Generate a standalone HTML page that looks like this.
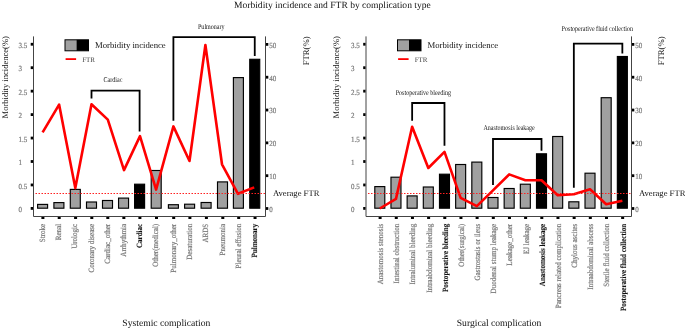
<!DOCTYPE html><html><head><meta charset="utf-8"><style>html,body{margin:0;padding:0;background:#fff;}svg{display:block;will-change:transform;} text{font-family:"Liberation Serif", serif;text-rendering:geometricPrecision;} text.xl{stroke:#7a7a7a;stroke-width:0.2px;} text.xlb{stroke:#111;stroke-width:0.1px;} text.tl{stroke:#7a7a7a;stroke-width:0.2px;}</style></head><body>
<svg width="685" height="329" viewBox="0 0 685 329">
<rect width="685" height="329" fill="#fff"/>
<text x="234.0" y="8.3" font-size="9.55" fill="#111">Morbidity incidence and FTR by complication type</text>
<rect x="37.6" y="204.4" width="10" height="3.8" fill="#a0a0a0" stroke="#000" stroke-width="1.15"/>
<rect x="53.9" y="202.6" width="10" height="5.6" fill="#a0a0a0" stroke="#000" stroke-width="1.15"/>
<rect x="70.3" y="189.4" width="10" height="18.8" fill="#a0a0a0" stroke="#000" stroke-width="1.15"/>
<rect x="86.5" y="202" width="10" height="6.2" fill="#a0a0a0" stroke="#000" stroke-width="1.15"/>
<rect x="102.5" y="200.5" width="10" height="7.7" fill="#a0a0a0" stroke="#000" stroke-width="1.15"/>
<rect x="118.55" y="198.1" width="10" height="10.1" fill="#a0a0a0" stroke="#000" stroke-width="1.15"/>
<rect x="134.6" y="184.2" width="10" height="24" fill="#000" stroke="#000" stroke-width="1.15"/>
<rect x="151.2" y="170.5" width="10" height="37.7" fill="#a0a0a0" stroke="#000" stroke-width="1.15"/>
<rect x="168.4" y="204.7" width="10" height="3.5" fill="#a0a0a0" stroke="#000" stroke-width="1.15"/>
<rect x="184.6" y="204.2" width="10" height="4" fill="#a0a0a0" stroke="#000" stroke-width="1.15"/>
<rect x="201.1" y="202.5" width="10" height="5.7" fill="#a0a0a0" stroke="#000" stroke-width="1.15"/>
<rect x="217.5" y="181.9" width="10" height="26.3" fill="#a0a0a0" stroke="#000" stroke-width="1.15"/>
<rect x="233.4" y="77.6" width="10" height="130.6" fill="#a0a0a0" stroke="#000" stroke-width="1.15"/>
<rect x="249.75" y="59.3" width="10" height="148.9" fill="#000" stroke="#000" stroke-width="1.15"/>
<path d="M91.5 98.6V90.6H139.6V131.4" fill="none" stroke="#000" stroke-width="1.8" stroke-linejoin="miter" stroke-linecap="butt"/>
<text transform="translate(113 81.8) scale(0.82 1)" font-size="7.4" text-anchor="middle" fill="#111">Cardiac</text>
<path d="M173.4 120.7V37.1H254.75V56.1" fill="none" stroke="#000" stroke-width="1.8" stroke-linejoin="miter" stroke-linecap="butt"/>
<text transform="translate(211.3 29.2) scale(0.82 1)" font-size="7.4" text-anchor="middle" fill="#111">Pulmonary</text>
<polyline points="42.6,132.3 59.1,104.6 75.3,188.1 91.5,104.3 107.8,119.6 124,170.1 140,136.1 156.1,189.6 173.4,126.4 189.5,161 205.4,45 222,164.3 238,193.8 254.2,187.4" fill="none" stroke="#ff0000" stroke-width="2.6" stroke-linejoin="round"/>
<line x1="35.5" y1="193.5" x2="265.5" y2="193.5" stroke="#ff2020" stroke-width="1" stroke-dasharray="1.5 1.5"/>
<text x="273" y="195.8" font-size="8.6" fill="#111">Average FTR</text>
<path d="M33.5 36.4V216.5H265.5V36.4" fill="none" stroke="#444" stroke-width="1"/>
<rect x="30.7" y="207" width="2.3" height="2.8" fill="#000"/>
<text transform="translate(18.6 212.1) scale(0.9 1)" font-size="7.8" class="tl" fill="#7a7a7a">0</text>
<rect x="30.7" y="183.55" width="2.3" height="2.8" fill="#000"/>
<text transform="translate(18.6 188.65) scale(0.9 1)" font-size="7.8" class="tl" fill="#7a7a7a">0.5</text>
<rect x="30.7" y="160.1" width="2.3" height="2.8" fill="#000"/>
<text transform="translate(18.6 165.2) scale(0.9 1)" font-size="7.8" class="tl" fill="#7a7a7a">1</text>
<rect x="30.7" y="136.65" width="2.3" height="2.8" fill="#000"/>
<text transform="translate(18.6 141.75) scale(0.9 1)" font-size="7.8" class="tl" fill="#7a7a7a">1.5</text>
<rect x="30.7" y="113.2" width="2.3" height="2.8" fill="#000"/>
<text transform="translate(18.6 118.3) scale(0.9 1)" font-size="7.8" class="tl" fill="#7a7a7a">2</text>
<rect x="30.7" y="89.75" width="2.3" height="2.8" fill="#000"/>
<text transform="translate(18.6 94.85) scale(0.9 1)" font-size="7.8" class="tl" fill="#7a7a7a">2.5</text>
<rect x="30.7" y="66.3" width="2.3" height="2.8" fill="#000"/>
<text transform="translate(18.6 71.4) scale(0.9 1)" font-size="7.8" class="tl" fill="#7a7a7a">3</text>
<rect x="30.7" y="42.85" width="2.3" height="2.8" fill="#000"/>
<text transform="translate(18.6 47.95) scale(0.9 1)" font-size="7.8" class="tl" fill="#7a7a7a">3.5</text>
<rect x="266" y="207.1" width="2.3" height="2.8" fill="#000"/>
<text transform="translate(269.2 211.8) scale(0.9 1)" font-size="7.8" class="tl" fill="#7a7a7a">0</text>
<rect x="266" y="174.28" width="2.3" height="2.8" fill="#000"/>
<text transform="translate(269.2 178.98) scale(0.9 1)" font-size="7.8" class="tl" fill="#7a7a7a">10</text>
<rect x="266" y="141.46" width="2.3" height="2.8" fill="#000"/>
<text transform="translate(269.2 146.16) scale(0.9 1)" font-size="7.8" class="tl" fill="#7a7a7a">20</text>
<rect x="266" y="108.64" width="2.3" height="2.8" fill="#000"/>
<text transform="translate(269.2 113.34) scale(0.9 1)" font-size="7.8" class="tl" fill="#7a7a7a">30</text>
<rect x="266" y="75.82" width="2.3" height="2.8" fill="#000"/>
<text transform="translate(269.2 80.52) scale(0.9 1)" font-size="7.8" class="tl" fill="#7a7a7a">40</text>
<rect x="266" y="43" width="2.3" height="2.8" fill="#000"/>
<text transform="translate(269.2 47.7) scale(0.9 1)" font-size="7.8" class="tl" fill="#7a7a7a">50</text>
<rect x="41.4" y="217" width="3" height="2" fill="#000"/>
<text class="xl" transform="translate(44.7 223.8) rotate(-90) scale(0.88 1)" font-size="8" font-weight="normal" text-anchor="end" fill="#7a7a7a">Stroke</text>
<rect x="57.7" y="217" width="3" height="2" fill="#000"/>
<text class="xl" transform="translate(61 223.8) rotate(-90) scale(0.88 1)" font-size="8" font-weight="normal" text-anchor="end" fill="#7a7a7a">Renal</text>
<rect x="74.1" y="217" width="3" height="2" fill="#000"/>
<text class="xl" transform="translate(77.4 223.8) rotate(-90) scale(0.88 1)" font-size="8" font-weight="normal" text-anchor="end" fill="#7a7a7a">Urologic</text>
<rect x="90.3" y="217" width="3" height="2" fill="#000"/>
<text class="xl" transform="translate(93.6 223.8) rotate(-90) scale(0.88 1)" font-size="8" font-weight="normal" text-anchor="end" fill="#7a7a7a">Coronary disease</text>
<rect x="106.3" y="217" width="3" height="2" fill="#000"/>
<text class="xl" transform="translate(109.6 223.8) rotate(-90) scale(0.88 1)" font-size="8" font-weight="normal" text-anchor="end" fill="#7a7a7a">Cardiac_other</text>
<rect x="122.35" y="217" width="3" height="2" fill="#000"/>
<text class="xl" transform="translate(125.65 223.8) rotate(-90) scale(0.88 1)" font-size="8" font-weight="normal" text-anchor="end" fill="#7a7a7a">Arrhythmia</text>
<rect x="138.4" y="217" width="3" height="2" fill="#000"/>
<text class="xlb" transform="translate(141.7 223.8) rotate(-90) scale(0.88 1)" font-size="8" font-weight="bold" text-anchor="end" fill="#111">Cardiac</text>
<rect x="155" y="217" width="3" height="2" fill="#000"/>
<text class="xl" transform="translate(158.3 223.8) rotate(-90) scale(0.88 1)" font-size="8" font-weight="normal" text-anchor="end" fill="#7a7a7a">Other(medical)</text>
<rect x="172.2" y="217" width="3" height="2" fill="#000"/>
<text class="xl" transform="translate(175.5 223.8) rotate(-90) scale(0.88 1)" font-size="8" font-weight="normal" text-anchor="end" fill="#7a7a7a">Pulmonary_other</text>
<rect x="188.4" y="217" width="3" height="2" fill="#000"/>
<text class="xl" transform="translate(191.7 223.8) rotate(-90) scale(0.88 1)" font-size="8" font-weight="normal" text-anchor="end" fill="#7a7a7a">Desaturation</text>
<rect x="204.9" y="217" width="3" height="2" fill="#000"/>
<text class="xl" transform="translate(208.2 223.8) rotate(-90) scale(0.88 1)" font-size="8" font-weight="normal" text-anchor="end" fill="#7a7a7a">ARDS</text>
<rect x="221.3" y="217" width="3" height="2" fill="#000"/>
<text class="xl" transform="translate(224.6 223.8) rotate(-90) scale(0.88 1)" font-size="8" font-weight="normal" text-anchor="end" fill="#7a7a7a">Pneumonia</text>
<rect x="237.2" y="217" width="3" height="2" fill="#000"/>
<text class="xl" transform="translate(240.5 223.8) rotate(-90) scale(0.88 1)" font-size="8" font-weight="normal" text-anchor="end" fill="#7a7a7a">Pleural effusion</text>
<rect x="253.55" y="217" width="3" height="2" fill="#000"/>
<text class="xlb" transform="translate(256.85 223.8) rotate(-90) scale(0.88 1)" font-size="8" font-weight="bold" text-anchor="end" fill="#111">Pulmonary</text>
<rect x="65" y="39.8" width="11.5" height="11" fill="#a0a0a0"/>
<rect x="76.5" y="39.8" width="12" height="11" fill="#000"/>
<rect x="65" y="39.8" width="23.5" height="11" fill="none" stroke="#000" stroke-width="1"/>
<text x="95" y="48.2" font-size="8.7" fill="#111">Morbidity incidence</text>
<line x1="65.6" y1="59.1" x2="76.1" y2="59.1" stroke="#ff0000" stroke-width="1.8"/>
<text x="82.2" y="62.3" font-size="7" fill="#444">FTR</text>
<text transform="translate(7.8 36.1) rotate(-90)" font-size="8.55" text-anchor="end" fill="#111">Morbidity incidence(%)</text>
<text transform="translate(308.6 36.4) rotate(-90)" font-size="8.7" text-anchor="end" fill="#111">FTR(%)</text>
<text x="166.3" y="325.7" font-size="9.65" text-anchor="middle" fill="#111">Systemic complication</text>
<rect x="374.8" y="186.6" width="10" height="21.6" fill="#a0a0a0" stroke="#000" stroke-width="1.15"/>
<rect x="390.97" y="177.2" width="10" height="31" fill="#a0a0a0" stroke="#000" stroke-width="1.15"/>
<rect x="407.14" y="195.9" width="10" height="12.3" fill="#a0a0a0" stroke="#000" stroke-width="1.15"/>
<rect x="423.31" y="187" width="10" height="21.2" fill="#a0a0a0" stroke="#000" stroke-width="1.15"/>
<rect x="439.48" y="174.2" width="10" height="34" fill="#000" stroke="#000" stroke-width="1.15"/>
<rect x="455.65" y="164.5" width="10" height="43.7" fill="#a0a0a0" stroke="#000" stroke-width="1.15"/>
<rect x="471.82" y="162.1" width="10" height="46.1" fill="#a0a0a0" stroke="#000" stroke-width="1.15"/>
<rect x="487.99" y="197.5" width="10" height="10.7" fill="#a0a0a0" stroke="#000" stroke-width="1.15"/>
<rect x="504.16" y="188.5" width="10" height="19.7" fill="#a0a0a0" stroke="#000" stroke-width="1.15"/>
<rect x="520.33" y="184.2" width="10" height="24" fill="#a0a0a0" stroke="#000" stroke-width="1.15"/>
<rect x="536.5" y="153.8" width="10" height="54.4" fill="#000" stroke="#000" stroke-width="1.15"/>
<rect x="552.67" y="136.5" width="10" height="71.7" fill="#a0a0a0" stroke="#000" stroke-width="1.15"/>
<rect x="568.84" y="201.8" width="10" height="6.4" fill="#a0a0a0" stroke="#000" stroke-width="1.15"/>
<rect x="585.01" y="173.2" width="10" height="35" fill="#a0a0a0" stroke="#000" stroke-width="1.15"/>
<rect x="601.18" y="97.7" width="10" height="110.5" fill="#a0a0a0" stroke="#000" stroke-width="1.15"/>
<rect x="617.35" y="56.5" width="10" height="151.7" fill="#000" stroke="#000" stroke-width="1.15"/>
<path d="M412.14 120.7V103H444.48V145.8" fill="none" stroke="#000" stroke-width="1.8" stroke-linejoin="miter" stroke-linecap="butt"/>
<text transform="translate(423.4 95.3) scale(0.82 1)" font-size="7.4" text-anchor="middle" fill="#111">Postoperative bleeding</text>
<path d="M492.99 184.9V139H541.5V150.7" fill="none" stroke="#000" stroke-width="1.8" stroke-linejoin="miter" stroke-linecap="butt"/>
<text transform="translate(509.1 129.9) scale(0.82 1)" font-size="7.4" text-anchor="middle" fill="#111">Anastomosis leakage</text>
<path d="M573.84 187.7V43.7H622.35V53.5" fill="none" stroke="#000" stroke-width="1.8" stroke-linejoin="miter" stroke-linecap="butt"/>
<text transform="translate(597.3 31.1) scale(0.82 1)" font-size="7.4" text-anchor="middle" fill="#111">Postoperative fluid collection</text>
<polyline points="379.8,208.5 395.97,198.9 412.14,126.8 428.31,168 444.48,151.9 460.65,197.9 476.82,206.1 492.99,190.4 509.16,174.4 525.33,180.3 541.5,180.3 557.67,195.2 573.84,194.2 590.01,189.3 606.18,204.3 622.35,200.7" fill="none" stroke="#ff0000" stroke-width="2.6" stroke-linejoin="round"/>
<line x1="368" y1="193.5" x2="631.5" y2="193.5" stroke="#ff2020" stroke-width="1" stroke-dasharray="1.5 1.5"/>
<text x="639" y="195.8" font-size="8.6" fill="#111">Average FTR</text>
<path d="M366 36.4V216.5H631.5V36.4" fill="none" stroke="#444" stroke-width="1"/>
<rect x="363.2" y="207" width="2.3" height="2.8" fill="#000"/>
<text transform="translate(351.1 212.1) scale(0.9 1)" font-size="7.8" class="tl" fill="#7a7a7a">0</text>
<rect x="363.2" y="183.55" width="2.3" height="2.8" fill="#000"/>
<text transform="translate(351.1 188.65) scale(0.9 1)" font-size="7.8" class="tl" fill="#7a7a7a">0.5</text>
<rect x="363.2" y="160.1" width="2.3" height="2.8" fill="#000"/>
<text transform="translate(351.1 165.2) scale(0.9 1)" font-size="7.8" class="tl" fill="#7a7a7a">1</text>
<rect x="363.2" y="136.65" width="2.3" height="2.8" fill="#000"/>
<text transform="translate(351.1 141.75) scale(0.9 1)" font-size="7.8" class="tl" fill="#7a7a7a">1.5</text>
<rect x="363.2" y="113.2" width="2.3" height="2.8" fill="#000"/>
<text transform="translate(351.1 118.3) scale(0.9 1)" font-size="7.8" class="tl" fill="#7a7a7a">2</text>
<rect x="363.2" y="89.75" width="2.3" height="2.8" fill="#000"/>
<text transform="translate(351.1 94.85) scale(0.9 1)" font-size="7.8" class="tl" fill="#7a7a7a">2.5</text>
<rect x="363.2" y="66.3" width="2.3" height="2.8" fill="#000"/>
<text transform="translate(351.1 71.4) scale(0.9 1)" font-size="7.8" class="tl" fill="#7a7a7a">3</text>
<rect x="363.2" y="42.85" width="2.3" height="2.8" fill="#000"/>
<text transform="translate(351.1 47.95) scale(0.9 1)" font-size="7.8" class="tl" fill="#7a7a7a">3.5</text>
<rect x="632" y="207.1" width="2.3" height="2.8" fill="#000"/>
<text transform="translate(635.2 211.8) scale(0.9 1)" font-size="7.8" class="tl" fill="#7a7a7a">0</text>
<rect x="632" y="174.28" width="2.3" height="2.8" fill="#000"/>
<text transform="translate(635.2 178.98) scale(0.9 1)" font-size="7.8" class="tl" fill="#7a7a7a">10</text>
<rect x="632" y="141.46" width="2.3" height="2.8" fill="#000"/>
<text transform="translate(635.2 146.16) scale(0.9 1)" font-size="7.8" class="tl" fill="#7a7a7a">20</text>
<rect x="632" y="108.64" width="2.3" height="2.8" fill="#000"/>
<text transform="translate(635.2 113.34) scale(0.9 1)" font-size="7.8" class="tl" fill="#7a7a7a">30</text>
<rect x="632" y="75.82" width="2.3" height="2.8" fill="#000"/>
<text transform="translate(635.2 80.52) scale(0.9 1)" font-size="7.8" class="tl" fill="#7a7a7a">40</text>
<rect x="632" y="43" width="2.3" height="2.8" fill="#000"/>
<text transform="translate(635.2 47.7) scale(0.9 1)" font-size="7.8" class="tl" fill="#7a7a7a">50</text>
<rect x="378.6" y="217" width="3" height="2" fill="#000"/>
<text class="xl" transform="translate(383.1 223.8) rotate(-90) scale(0.88 1)" font-size="8" font-weight="normal" text-anchor="end" fill="#7a7a7a">Anastomosis stenosis</text>
<rect x="394.77" y="217" width="3" height="2" fill="#000"/>
<text class="xl" transform="translate(399.27 223.8) rotate(-90) scale(0.88 1)" font-size="8" font-weight="normal" text-anchor="end" fill="#7a7a7a">Intestinal obstruction</text>
<rect x="410.94" y="217" width="3" height="2" fill="#000"/>
<text class="xl" transform="translate(415.44 223.8) rotate(-90) scale(0.88 1)" font-size="8" font-weight="normal" text-anchor="end" fill="#7a7a7a">Intraluminal bleeding</text>
<rect x="427.11" y="217" width="3" height="2" fill="#000"/>
<text class="xl" transform="translate(431.61 223.8) rotate(-90) scale(0.88 1)" font-size="8" font-weight="normal" text-anchor="end" fill="#7a7a7a">Intraabdominal bleeding</text>
<rect x="443.28" y="217" width="3" height="2" fill="#000"/>
<text class="xlb" transform="translate(447.78 223.8) rotate(-90) scale(0.88 1)" font-size="8" font-weight="bold" text-anchor="end" fill="#111">Postoperative bleeding</text>
<rect x="459.45" y="217" width="3" height="2" fill="#000"/>
<text class="xl" transform="translate(463.95 223.8) rotate(-90) scale(0.88 1)" font-size="8" font-weight="normal" text-anchor="end" fill="#7a7a7a">Other(surgical)</text>
<rect x="475.62" y="217" width="3" height="2" fill="#000"/>
<text class="xl" transform="translate(480.12 223.8) rotate(-90) scale(0.88 1)" font-size="8" font-weight="normal" text-anchor="end" fill="#7a7a7a">Gastrostasis or ileus</text>
<rect x="491.79" y="217" width="3" height="2" fill="#000"/>
<text class="xl" transform="translate(496.29 223.8) rotate(-90) scale(0.88 1)" font-size="8" font-weight="normal" text-anchor="end" fill="#7a7a7a">Duodenal stump leakage</text>
<rect x="507.96" y="217" width="3" height="2" fill="#000"/>
<text class="xl" transform="translate(512.46 223.8) rotate(-90) scale(0.88 1)" font-size="8" font-weight="normal" text-anchor="end" fill="#7a7a7a">Leakage_other</text>
<rect x="524.13" y="217" width="3" height="2" fill="#000"/>
<text class="xl" transform="translate(528.63 223.8) rotate(-90) scale(0.88 1)" font-size="8" font-weight="normal" text-anchor="end" fill="#7a7a7a">EJ leakage</text>
<rect x="540.3" y="217" width="3" height="2" fill="#000"/>
<text class="xlb" transform="translate(544.8 223.8) rotate(-90) scale(0.88 1)" font-size="8" font-weight="bold" text-anchor="end" fill="#111">Anastomosis leakage</text>
<rect x="556.47" y="217" width="3" height="2" fill="#000"/>
<text class="xl" transform="translate(560.97 223.8) rotate(-90) scale(0.88 1)" font-size="8" font-weight="normal" text-anchor="end" fill="#7a7a7a">Pancreas related complication</text>
<rect x="572.64" y="217" width="3" height="2" fill="#000"/>
<text class="xl" transform="translate(577.14 223.8) rotate(-90) scale(0.88 1)" font-size="8" font-weight="normal" text-anchor="end" fill="#7a7a7a">Chylous ascites</text>
<rect x="588.81" y="217" width="3" height="2" fill="#000"/>
<text class="xl" transform="translate(593.31 223.8) rotate(-90) scale(0.88 1)" font-size="8" font-weight="normal" text-anchor="end" fill="#7a7a7a">Intraabdominal abscess</text>
<rect x="604.98" y="217" width="3" height="2" fill="#000"/>
<text class="xl" transform="translate(609.48 223.8) rotate(-90) scale(0.88 1)" font-size="8" font-weight="normal" text-anchor="end" fill="#7a7a7a">Sterile fluid collection</text>
<rect x="621.15" y="217" width="3" height="2" fill="#000"/>
<text class="xlb" transform="translate(625.65 223.8) rotate(-90) scale(0.88 1)" font-size="8" font-weight="bold" text-anchor="end" fill="#111">Postoperative fluid collection</text>
<rect x="397.5" y="39.8" width="11.5" height="11" fill="#a0a0a0"/>
<rect x="409" y="39.8" width="12" height="11" fill="#000"/>
<rect x="397.5" y="39.8" width="23.5" height="11" fill="none" stroke="#000" stroke-width="1"/>
<text x="427.5" y="48.2" font-size="8.7" fill="#111">Morbidity incidence</text>
<line x1="398.1" y1="59.1" x2="408.6" y2="59.1" stroke="#ff0000" stroke-width="1.8"/>
<text x="414.7" y="62.3" font-size="7" fill="#444">FTR</text>
<text transform="translate(339.4 36.1) rotate(-90)" font-size="8.55" text-anchor="end" fill="#111">Morbidity incidence(%)</text>
<text transform="translate(663.5 36.4) rotate(-90)" font-size="8.7" text-anchor="end" fill="#111">FTR(%)</text>
<text x="499" y="325.7" font-size="9.65" text-anchor="middle" fill="#111">Surgical complication</text>
</svg></body></html>
